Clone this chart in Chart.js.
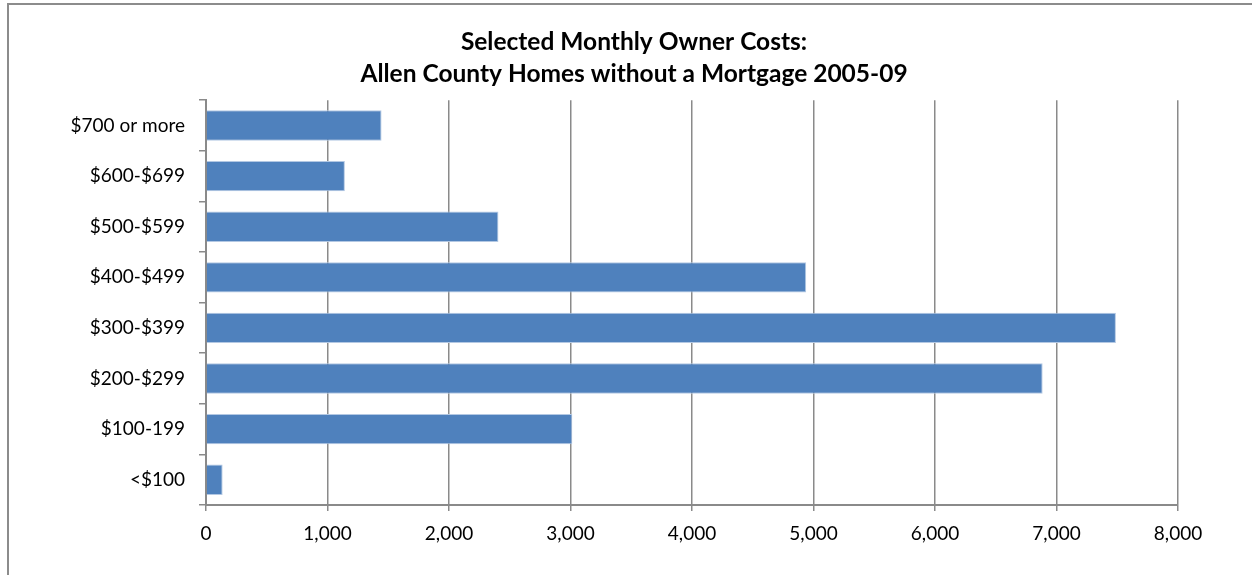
<!DOCTYPE html>
<html>
<head>
<meta charset="utf-8">
<script src="https://cdn.jsdelivr.net/npm/chart.js@4"></script>
<style>
  body { margin: 0; background: #fff; }
  #frame { position: absolute; left: 7px; top: 3px; width: 1270px; height: 600px; border: 2px solid #8c8c8c; }
  #wrap { position: absolute; left: 0; top: 0; width: 1252px; height: 575px; }
</style>
</head>
<body>
<div id="frame"></div>
<div id="wrap"><canvas id="myChart"></canvas></div>
<script>
// cost brackets, bottom to top
const categories = ['<$100', '$100-199', '$200-$299', '$300-$399', '$400-$499', '$500-$599', '$600-$699', '$700 or more'];
const homes = [137, 3015, 6886, 7489, 4940, 2407, 1143, 1445];
const xTicks = [0, 1000, 2000, 3000, 4000, 5000, 6000, 7000, 8000];

const gridColor = '#8a8a8a';
const font = { family: 'Lato, "Open Sans", sans-serif', size: 19 };

// title is centred on the whole frame, not on the padded chart box
const titleShift = {
  id: 'titleShift',
  afterLayout(chart) {
    const t = chart.titleBlock;
    if (t) { t.left += 41; t.right += 41; }
  }
};

const data = {
  labels: categories,
  datasets: [{
    label: 'Homes without a Mortgage',
    data: homes,
    backgroundColor: '#4f81bd',
    borderColor: '#b3c8e3',
    borderWidth: 1,
    categoryPercentage: 1,
    barPercentage: 0.6
  }]
};

const config = {
  type: 'bar',
  data: data,
  plugins: [titleShift],
  options: {
    indexAxis: 'y',
    responsive: true,
    maintainAspectRatio: false,
    animation: false,
    layout: { padding: { left: 8, right: 74, top: 0, bottom: 0 } },
    plugins: {
      legend: { display: false },
      tooltip: { enabled: false },
      title: {
        display: true,
        text: ['Selected Monthly Owner Costs:', 'Allen County Homes without a Mortgage 2005-09'],
        color: '#000',
        font: { family: font.family, size: 24.5, weight: 'bold', lineHeight: 1.27 },
        padding: { top: 27, bottom: 11 }
      }
    },
    scales: {
      x: {
        min: 0,
        max: 8000,
        afterBuildTicks: (scale) => { scale.ticks = xTicks.map(v => ({ value: v })); },
        afterFit: (scale) => { scale.height = 70; },
        ticks: {
          color: '#000',
          font: font,
          padding: 11,
          callback: (v) => Number(v).toLocaleString('en-US')
        },
        grid: { color: gridColor, lineWidth: 1.5, tickLength: 6 },
        border: { color: gridColor, width: 2 }
      },
      y: {
        reverse: true,
        afterFit: (scale) => { scale.width = 198; },
        ticks: { color: '#000', font: font, padding: 14 },
        grid: { drawOnChartArea: false, drawTicks: true, tickLength: 7, color: gridColor, lineWidth: 1.5, offset: true },
        border: { color: gridColor, width: 2 }
      }
    }
  }
};

const myChart = new Chart(document.getElementById('myChart'), config);
</script>
</body>
</html>
